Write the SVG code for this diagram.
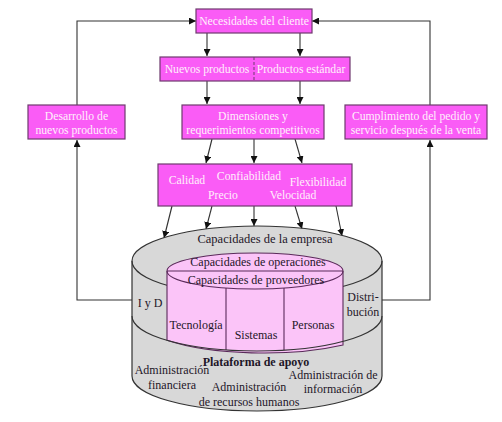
<svg xmlns="http://www.w3.org/2000/svg" width="502" height="422" viewBox="0 0 502 422">
<defs>
<marker id="ah" viewBox="0 0 10 10" refX="10" refY="5" markerWidth="7" markerHeight="7" markerUnits="userSpaceOnUse" orient="auto">
<path d="M0,0 L10,5 L0,10 z" fill="#111"/>
</marker>
<style>
.box{fill:#fa5cf6;stroke:#6e3a6e;stroke-width:1.2}
.bt{font-family:"Liberation Serif","Times New Roman",serif;font-size:11.7px;fill:#fff0fb;text-anchor:middle}
.ct{font-family:"Liberation Serif","Times New Roman",serif;font-size:12px;fill:#1e1628;text-anchor:middle}
.b{font-weight:bold}
.ln{fill:none;stroke:#333;stroke-width:1.1}
.ar{fill:none;stroke:#333;stroke-width:1.1;marker-end:url(#ah)}
.gray{fill:#d8d8d8;stroke:#333;stroke-width:1.2}
.pink{fill:#fbc4f8;stroke:#5a2a5a;stroke-width:1.1}
</style>
</defs>
<rect width="502" height="422" fill="#fff"/>

<g id="connectors">
<line class="ar" x1="207" y1="33" x2="207" y2="56"/>
<line class="ar" x1="300" y1="33" x2="300" y2="56"/>
<line class="ar" x1="207" y1="81" x2="207" y2="104"/>
<line class="ar" x1="300" y1="81" x2="300" y2="104"/>
<line class="ar" x1="212" y1="139" x2="206" y2="163"/>
<line class="ar" x1="254" y1="139" x2="254" y2="163"/>
<line class="ar" x1="295" y1="139" x2="302" y2="163"/>
<line class="ar" x1="172" y1="206" x2="164" y2="238"/>
<line class="ar" x1="212" y1="206" x2="206" y2="229"/>
<line class="ar" x1="254" y1="206" x2="254" y2="226"/>
<line class="ar" x1="295" y1="206" x2="302" y2="229"/>
<line class="ar" x1="336" y1="206" x2="342" y2="236"/>
<polyline class="ar" points="77,105 77,21 196,21"/>
<polyline class="ar" points="430,105 430,21 312,21"/>
<polyline class="ar" points="132,300 77,300 77,140"/>
<polyline class="ar" points="382,300 430,300 430,140"/>
</g>

<g id="cylinder">
<path class="gray" d="M132,261 A125,35 0 0 1 382,261 L382,376 A125,35 0 0 1 132,376 Z"/>
<path class="ln" d="M132,261 A125,35 0 0 0 382,261"/>
<path class="pink" d="M167,271 A88,18 0 0 1 343,271 L343,345 A125,35 0 0 1 167,340.3 Z"/>
<path class="ln" style="stroke:#5a2a5a" d="M167,271 A88,18 0 0 0 343,271"/>
<line class="ln" style="stroke:#5a2a5a" x1="167" y1="271" x2="343" y2="271"/>
<line class="ln" style="stroke:#5a2a5a" x1="226" y1="288" x2="226" y2="350"/>
<line class="ln" style="stroke:#5a2a5a" x1="284" y1="288" x2="284" y2="350"/>
<path class="ln" d="M132,316 A125,35 0 0 0 382,316"/>
<text class="ct" x="265" y="243" style="font-size:12.5px">Capacidades de la empresa</text>
<text class="ct" x="258" y="266">Capacidades de operaciones</text>
<text class="ct" x="256" y="284">Capacidades de proveedores</text>
<text class="ct" x="150" y="307">I y D</text>
<text class="ct" x="363" y="301">Distri-</text>
<text class="ct" x="363" y="316">bución</text>
<text class="ct" x="196" y="329">Tecnología</text>
<text class="ct" x="256" y="339">Sistemas</text>
<text class="ct" x="313" y="329">Personas</text>
<text class="ct b" x="256" y="366">Plataforma de apoyo</text>
<text class="ct" x="172" y="374">Administración</text>
<text class="ct" x="172" y="389">financiera</text>
<text class="ct" x="249" y="391">Administración</text>
<text class="ct" x="249" y="406">de recursos humanos</text>
<text class="ct" x="333" y="379">Administración de</text>
<text class="ct" x="333" y="393">información</text>
</g>

<g id="necesidades">
<rect class="box" x="196" y="9" width="116" height="24"/>
<text class="bt" x="254" y="25">Necesidades del cliente</text>
</g>
<g id="productos">
<rect class="box" x="160" y="57" width="190" height="24"/>
<line x1="254" y1="57" x2="254" y2="81" stroke="#6e3a6e" stroke-width="1" stroke-dasharray="3,2"/>
<text class="bt" x="207" y="73">Nuevos productos</text>
<text class="bt" x="301" y="73">Productos estándar</text>
</g>
<g id="desarrollo">
<rect class="box" x="28" y="105" width="97" height="34"/>
<text class="bt" x="76.5" y="120">Desarrollo de</text>
<text class="bt" x="76.5" y="134">nuevos productos</text>
</g>
<g id="dimensiones">
<rect class="box" x="182" y="105" width="142" height="34"/>
<text class="bt" x="253" y="120">Dimensiones y</text>
<text class="bt" x="253" y="134">requerimientos competitivos</text>
</g>
<g id="cumplimiento">
<rect class="box" x="345" y="105" width="142" height="34"/>
<text class="bt" x="416" y="120">Cumplimiento del pedido y</text>
<text class="bt" x="416" y="134">servicio después de la venta</text>
</g>
<g id="atributos">
<rect class="box" x="158" y="164" width="194" height="42"/>
<text class="bt" x="187" y="184">Calidad</text>
<text class="bt" x="249" y="180">Confiabilidad</text>
<text class="bt" x="318" y="186">Flexibilidad</text>
<text class="bt" x="223" y="199">Precio</text>
<text class="bt" x="293" y="199">Velocidad</text>
</g>
</svg>
